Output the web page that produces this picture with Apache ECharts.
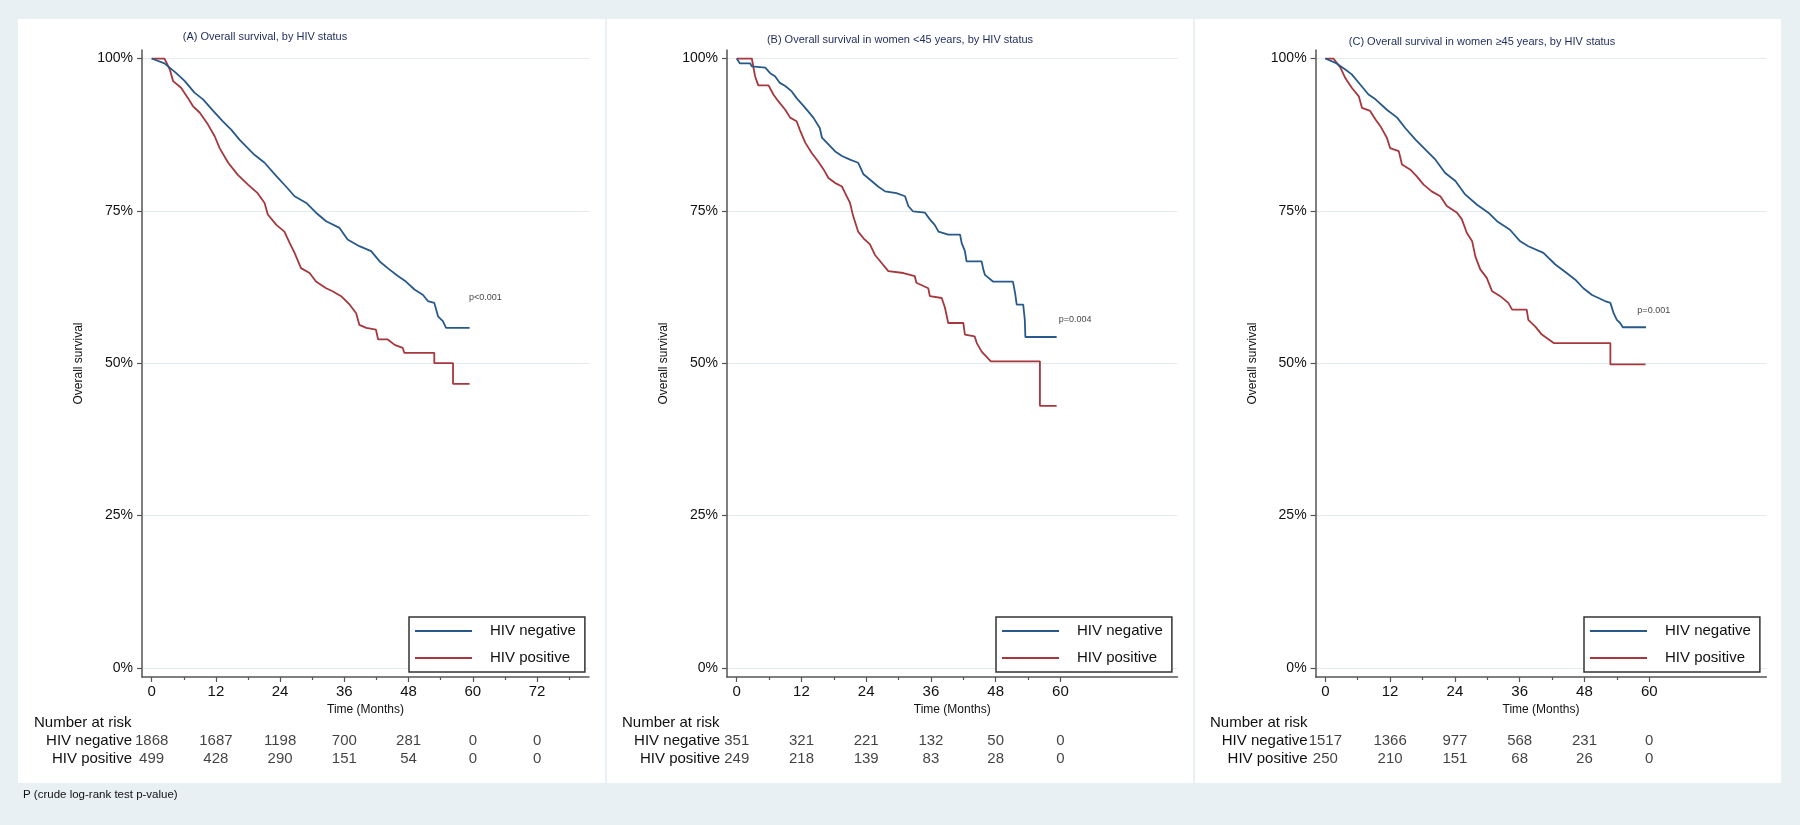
<!DOCTYPE html>
<html>
<head>
<meta charset="utf-8">
<title>Overall survival by HIV status</title>
<script src="https://cdn.jsdelivr.net/npm/echarts@6/dist/echarts.min.js"></script>
<style>
  html, body { margin: 0; padding: 0; background: #e9f0f3; }
  #chart { width: 1800px; height: 825px; }
</style>
</head>
<body>
<div id="chart"></div>
<script>
// ===== 数据 =====
const ticksA = [0, 12, 24, 36, 48, 60, 72]
const ticksBC = [0, 12, 24, 36, 48, 60]
const minorA = [6, 18, 30, 42, 54, 66, 78]
const minorBC = [6, 18, 30, 42, 54]
const yTicks = [0, 25, 50, 75, 100]

const titles = [
  '(A) Overall survival, by HIV status',
  '(B) Overall survival in women <45 years, by HIV status',
  '(C) Overall survival in women ≥45 years, by HIV status',
]
const pValues = ['p<0.001', 'p=0.004', 'p=0.001']
const pPos = [[59.3, 60.8], [59.7, 57.1], [57.8, 58.6]]

// 曲线顶点 [月份, 生存率%]
const aNeg = [[0,100],[2.4,99.2],[4.6,97.6],[6.2,96.3],[8.0,94.4],[9.6,93.3],[11.5,91.4],[13.3,89.7],[14.9,88.3],[16.4,86.7],[19.2,84.2],[21.1,82.9],[23.3,80.7],[25.1,79.0],[26.7,77.4],[28.9,76.3],[30.7,74.7],[32.6,73.3],[35.1,72.2],[36.6,70.3],[38.8,69.2],[41.0,68.4],[42.6,66.7],[44.1,65.6],[46.0,64.3],[47.5,63.4],[49.1,62.1],[50.7,61.2],[51.6,60.2],[52.8,59.9],[53.5,57.7],[54.4,56.9],[55.0,55.8],[59.4,55.8]]
const aPos = [[0,100],[2.4,100],[3.4,98.2],[4.0,96.3],[5.5,95.2],[6.8,93.5],[7.7,92.2],[9.0,91.1],[10.5,89.2],[11.8,87.2],[12.7,85.3],[14.3,82.9],[16.1,80.9],[18.0,79.3],[19.8,77.9],[21.1,76.3],[21.7,74.4],[23.3,72.7],[24.8,71.6],[25.8,69.7],[26.7,68.1],[27.9,65.6],[29.5,64.8],[30.7,63.4],[32.6,62.3],[33.8,61.8],[35.4,61.0],[37.0,59.6],[38.2,58.2],[38.8,56.3],[40.1,55.8],[41.9,55.5],[42.3,53.9],[44.1,53.9],[45.4,53.0],[46.9,52.5],[47.2,51.7],[52.8,51.7],[52.8,50.0],[56.3,50.0],[56.3,46.6],[59.4,46.6]]
const bNeg = [[0,100],[0.6,99.2],[2.5,99.2],[2.8,98.7],[5.3,98.5],[6.2,97.6],[7.1,97.1],[8.0,96.0],[9.0,95.5],[10.2,94.6],[11.1,93.5],[12.7,91.9],[14.2,90.3],[15.4,88.6],[15.8,87.0],[17.0,85.9],[18.2,84.8],[19.5,84.0],[21.0,83.4],[22.5,82.9],[23.5,81.0],[25.0,79.9],[26.2,79.0],[27.5,78.2],[29.6,77.9],[31.2,77.4],[31.8,75.8],[32.7,74.9],[34.9,74.7],[35.8,73.6],[36.7,72.7],[37.4,71.6],[39.2,71.1],[41.4,71.1],[41.7,69.7],[42.3,68.4],[42.6,66.7],[45.4,66.7],[45.7,65.4],[46.0,64.5],[47.5,63.4],[51.2,63.4],[51.6,61.5],[51.9,59.6],[53.1,59.6],[53.4,57.1],[53.5,54.3],[59.3,54.3]]
const bPos = [[0,100],[2.8,100],[3.4,97.1],[4.0,95.6],[5.9,95.6],[6.8,94.1],[7.7,93.0],[9.0,91.6],[9.9,90.3],[11.1,89.7],[11.7,88.3],[12.7,86.2],[13.9,84.5],[15.1,83.1],[16.1,81.8],[17.0,80.4],[18.2,79.6],[19.5,79.0],[20.1,77.9],[21.0,76.3],[21.6,74.1],[22.5,71.6],[23.5,70.5],[24.7,69.5],[25.6,67.8],[26.9,66.4],[28.1,65.1],[30.9,64.8],[33.0,64.3],[33.3,63.2],[35.5,62.3],[35.8,61.0],[38.0,60.7],[38.6,59.1],[39.2,56.6],[42.0,56.6],[42.3,54.7],[44.1,54.4],[44.5,53.3],[45.4,51.9],[47.1,50.3],[56.2,50.3],[56.2,43.0],[59.3,43.0]]
const cNeg = [[0,100],[2.1,99.2],[3.7,98.2],[4.9,97.4],[6.5,95.7],[8.0,94.1],[9.3,93.3],[11.4,91.6],[13.3,90.3],[14.8,88.6],[16.7,86.7],[18.5,85.1],[20.4,83.4],[22.2,81.2],[24.1,79.9],[25.9,77.7],[28.1,76.0],[30.2,74.7],[31.8,73.3],[34.2,71.9],[36.1,70.0],[37.6,69.2],[40.4,68.1],[42.6,66.2],[44.7,64.8],[46.3,63.7],[47.8,62.3],[49.4,61.2],[51.8,60.2],[52.8,59.9],[53.4,58.2],[54.0,57.1],[54.6,56.6],[55.1,55.9],[59.4,55.9]]
const cPos = [[0,100],[1.5,100],[2.8,98.5],[3.7,96.8],[4.9,95.2],[6.2,93.8],[6.8,91.9],[8.3,91.4],[9.3,90.0],[10.2,88.9],[11.4,87.0],[12.0,85.3],[13.6,84.8],[14.2,82.6],[15.7,81.8],[16.9,80.7],[18.2,79.3],[19.7,78.2],[21.3,77.4],[22.5,75.8],[24.4,74.7],[25.3,73.6],[26.2,71.4],[27.2,70.0],[27.8,67.5],[28.7,65.4],[29.9,64.0],[30.9,61.8],[32.4,61.0],[33.9,59.9],[34.6,58.8],[37.3,58.8],[37.6,57.1],[38.9,56.0],[40.1,54.7],[42.3,53.3],[52.8,53.3],[52.8,49.8],[59.3,49.8]]

// Number at risk
const riskANeg = [1868, 1687, 1198, 700, 281, 0, 0]
const riskAPos = [499, 428, 290, 151, 54, 0, 0]
const riskBNeg = [351, 321, 221, 132, 50, 0]
const riskBPos = [249, 218, 139, 83, 28, 0]
const riskCNeg = [1517, 1366, 977, 568, 231, 0]
const riskCPos = [250, 210, 151, 68, 26, 0]

// ===== 样式 / 布局 =====
const FONT = '"Liberation Sans", Arial, sans-serif'
const BLUE = '#27598b'
const RED = '#a6373d'
const AXIS = '#555'
const TEXT = '#111'
const X_MIN = -1.8
const X_MAX = 81.7
const Y_MIN = -1.5
const Y_MAX = 101.4

const panels = [
  { left: 142, width: 447, labelGap: 10, ticks: ticksA, minor: minorA, neg: aNeg, pos: aPos,
    riskNeg: riskANeg, riskPos: riskAPos, box: [18, 587], titleX: 265, titleY: 37, legendX: 409, riskX: 34 },
  { left: 727, width: 450.5, labelGap: 7, ticks: ticksBC, minor: minorBC, neg: bNeg, pos: bPos,
    riskNeg: riskBNeg, riskPos: riskBPos, box: [607, 586], titleX: 900, titleY: 40, legendX: 996, riskX: 622 },
  { left: 1315.6, width: 450.8, labelGap: 8, ticks: ticksBC, minor: minorBC, neg: cNeg, pos: cPos,
    riskNeg: riskCNeg, riskPos: riskCPos, box: [1195, 586], titleX: 1482, titleY: 42, legendX: 1584, riskX: 1210 },
]

const grids = []
const xAxes = []
const yAxes = []
const series = []
const legends = []
const graphics = []

// 主图 0-2，次刻度叠加 3-5，风险表 6-8
panels.forEach((p, i) => {
  grids[i] = { left: p.left, top: 50, width: p.width, height: 627 }
  grids[3 + i] = { left: p.left, top: 50, width: p.width, height: 627 }
  grids[6 + i] = { left: p.left, top: 732, width: p.width, height: 36 }

  xAxes[i] = {
    gridIndex: i, type: 'value', min: X_MIN, max: X_MAX,
    axisLine: { onZero: false, lineStyle: { color: AXIS, width: 1.5 } },
    axisTick: { customValues: p.ticks, length: 5, lineStyle: { color: AXIS, width: 1.2 } },
    axisLabel: { customValues: p.ticks, fontSize: 15, color: TEXT, margin: 7 },
    splitLine: { show: false },
    name: 'Time (Months)', nameLocation: 'middle', nameGap: 24,
    nameTextStyle: { fontSize: 12, color: TEXT },
  }
  xAxes[3 + i] = {
    gridIndex: 3 + i, type: 'value', min: X_MIN, max: X_MAX, position: 'bottom',
    axisLine: { show: false, onZero: false },
    axisTick: { customValues: p.minor, length: 3, lineStyle: { color: AXIS, width: 1.2 } },
    axisLabel: { show: false },
    splitLine: { show: false },
  }
  xAxes[6 + i] = { gridIndex: 6 + i, type: 'value', min: X_MIN, max: X_MAX, show: false }

  yAxes[i] = {
    gridIndex: i, type: 'value', min: Y_MIN, max: Y_MAX,
    axisLine: { show: true, onZero: false, lineStyle: { color: AXIS, width: 1.5 } },
    axisTick: { show: true, customValues: yTicks, length: 5, lineStyle: { color: AXIS, width: 1.2 } },
    axisLabel: { customValues: yTicks, formatter: '{value}%', fontSize: 14, color: TEXT, margin: 9 },
    splitLine: { show: true, lineStyle: { color: '#e3ebee', width: 1 } },
    name: 'Overall survival', nameLocation: 'middle', nameGap: 57,
    nameTextStyle: { fontSize: 12, color: TEXT },
  }
  yAxes[3 + i] = { gridIndex: 3 + i, type: 'value', min: Y_MIN, max: Y_MAX, show: false }
  yAxes[6 + i] = {
    gridIndex: 6 + i, type: 'category', data: ['HIV positive', 'HIV negative'],
    axisLine: { show: false }, axisTick: { show: false },
    axisLabel: { interval: 0, fontSize: 15, color: TEXT, margin: p.labelGap },
  }

  series.push({
    type: 'line', name: 'HIV negative', xAxisIndex: i, yAxisIndex: i,
    data: p.neg, symbol: 'none', color: BLUE,
    lineStyle: { width: 1.8, color: BLUE }, silent: true, z: 3,
  })
  series.push({
    type: 'line', name: 'HIV positive', xAxisIndex: i, yAxisIndex: i,
    data: p.pos, symbol: 'none', color: RED,
    lineStyle: { width: 1.8, color: RED }, silent: true, z: 2,
  })
  series.push({
    type: 'scatter', xAxisIndex: i, yAxisIndex: i, data: [pPos[i]],
    symbolSize: 0, silent: true,
    label: { show: true, formatter: pValues[i], position: 'right', distance: 0, fontSize: 9, color: TEXT },
  })
  const riskData = p.ticks.map((m, j) => [m, 'HIV negative', p.riskNeg[j]])
    .concat(p.ticks.map((m, j) => [m, 'HIV positive', p.riskPos[j]]))
  series.push({
    type: 'scatter', xAxisIndex: 6 + i, yAxisIndex: 6 + i, data: riskData,
    symbolSize: 0, silent: true,
    label: { show: true, position: 'inside', formatter: (d) => String(d.value[2]), fontSize: 15, color: TEXT },
  })

  legends.push({
    left: p.legendX, top: 617, orient: 'vertical',
    data: ['HIV negative', 'HIV positive'],
    icon: 'rect', itemWidth: 57, itemHeight: 2, itemGap: 9,
    padding: [5, 9, 5, 6], borderColor: '#333', borderWidth: 1.5, backgroundColor: '#fff',
    selectedMode: false,
    textStyle: { fontSize: 15, color: TEXT, lineHeight: 18, padding: [0, 0, 0, 13] },
  })

  graphics.push({
    type: 'rect', z: -10, silent: true,
    shape: { x: p.box[0], y: 19, width: p.box[1], height: 764 },
    style: { fill: '#fff' },
  })
  graphics.push({
    type: 'text', x: p.titleX, y: p.titleY, silent: true,
    style: { text: titles[i], fill: '#1d2b5c', font: '11px ' + FONT, textAlign: 'center', textVerticalAlign: 'middle' },
  })
  graphics.push({
    type: 'text', x: p.riskX, y: 723, silent: true,
    style: { text: 'Number at risk', fill: TEXT, font: '15px ' + FONT, textAlign: 'left', textVerticalAlign: 'middle' },
  })
})

graphics.push({
  type: 'text', x: 23, y: 795, silent: true,
  style: { text: 'P (crude log-rank test p-value)', fill: TEXT, font: '11.5px ' + FONT, textAlign: 'left', textVerticalAlign: 'middle' },
})

// ===== 渲染 =====
const chart = echarts.init(document.getElementById('chart'))
chart.setOption({
  backgroundColor: '#e9f0f3',
  animation: false,
  textStyle: { fontFamily: FONT },
  grid: grids,
  xAxis: xAxes,
  yAxis: yAxes,
  legend: legends,
  graphic: graphics,
  series,
})
</script>
</body>
</html>
